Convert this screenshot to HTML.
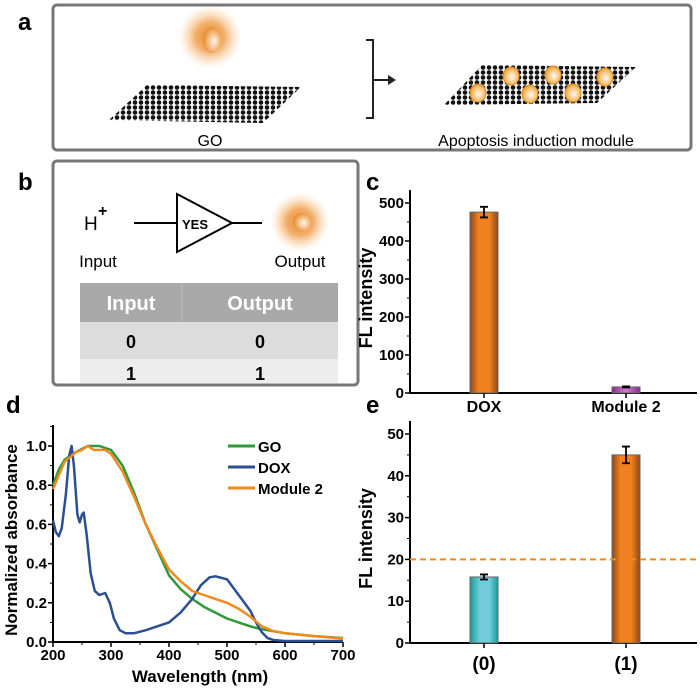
<!DOCTYPE html>
<html><head><meta charset="utf-8"><style>
body{margin:0;background:#fff;}
svg{display:block;font-family:"Liberation Sans",Arial,sans-serif;}
.b{font-weight:bold;}
</style></head><body>
<svg width="700" height="688" viewBox="0 0 700 688">
<defs>
<radialGradient id="halo"><stop offset="0" stop-color="#e8892a"/><stop offset="0.45" stop-color="#f0a050" stop-opacity="0.85"/><stop offset="1" stop-color="#fbd9b0" stop-opacity="0"/></radialGradient>
<radialGradient id="core" cx="0.6" cy="0.55" r="0.6"><stop offset="0" stop-color="#fff6ea"/><stop offset="1" stop-color="#e8892a"/></radialGradient>
<radialGradient id="ball" cx="0.55" cy="0.55" r="0.6"><stop offset="0" stop-color="#fffaf0"/><stop offset="0.7" stop-color="#f5b860"/><stop offset="1" stop-color="#d98a20"/></radialGradient>
<pattern id="dots" width="6" height="5" patternUnits="userSpaceOnUse"><circle cx="3" cy="2.5" r="2.3" fill="#111"/></pattern>
<linearGradient id="orbar" x1="0" x2="1"><stop offset="0" stop-color="#8a4a18"/><stop offset="0.3" stop-color="#f08020"/><stop offset="0.7" stop-color="#f08020"/><stop offset="1" stop-color="#8a4a18"/></linearGradient>
<linearGradient id="tealbar" x1="0" x2="1"><stop offset="0" stop-color="#1a9a9a"/><stop offset="0.35" stop-color="#70ccd8"/><stop offset="0.7" stop-color="#70ccd8"/><stop offset="1" stop-color="#1a9a9a"/></linearGradient>
<linearGradient id="purbar" x1="0" x2="1"><stop offset="0" stop-color="#8a2a8a"/><stop offset="0.5" stop-color="#d080d0"/><stop offset="1" stop-color="#8a2a8a"/></linearGradient>
</defs>

<!-- panel a -->
<text x="18" y="30" font-size="24" class="b">a</text>
<rect x="53" y="5" width="638" height="145" rx="4" fill="none" stroke="#777" stroke-width="3"/>
<circle cx="210" cy="37" r="32" fill="url(#halo)"/>
<ellipse cx="212" cy="40" rx="9" ry="13" fill="url(#core)"/>
<polygon points="147,85 301,87 263,123 109,120" fill="url(#dots)"/>
<text x="210" y="146" font-size="16" text-anchor="middle">GO</text>
<path d="M366 40 H373 V118 H366 M373 80 H388" fill="none" stroke="#222" stroke-width="2"/>
<polygon points="388,75 396,80 388,85" fill="#222"/>
<polygon points="482,65 636,67 597,103 444,105" fill="url(#dots)"/>
<g fill="url(#ball)" stroke="#d98a20" stroke-width="1">
<ellipse cx="478" cy="93" rx="8" ry="9"/><ellipse cx="511" cy="76" rx="8" ry="9"/><ellipse cx="530" cy="94" rx="8" ry="9"/><ellipse cx="553" cy="75" rx="8" ry="9"/><ellipse cx="573" cy="93" rx="8" ry="9"/><ellipse cx="605" cy="77" rx="8" ry="9"/>
</g>
<text x="536" y="146" font-size="16" text-anchor="middle">Apoptosis induction module</text>

<!-- panel b -->
<text x="18" y="190" font-size="24" class="b">b</text>
<rect x="53" y="161" width="305" height="224" rx="4" fill="none" stroke="#777" stroke-width="3"/>
<text x="84" y="230" font-size="19">H</text><text x="98" y="216" font-size="16" class="b">+</text>
<line x1="134" y1="223" x2="177" y2="223" stroke="#000" stroke-width="2"/>
<polygon points="177,194 232,223 177,252" fill="#fff" stroke="#000" stroke-width="2"/>
<text x="182" y="229" font-size="13" class="b">YES</text>
<line x1="232" y1="223" x2="262" y2="223" stroke="#000" stroke-width="2"/>
<circle cx="300" cy="222" r="30" fill="url(#halo)"/>
<circle cx="302" cy="222" r="9" fill="url(#core)"/>
<text x="98" y="267" font-size="17" text-anchor="middle">Input</text>
<text x="300" y="267" font-size="17" text-anchor="middle">Output</text>
<g>
<rect x="80" y="283" width="258" height="39" fill="#a9a9a9"/>
<rect x="80" y="322" width="258" height="37" fill="#dcdcdc"/>
<rect x="80" y="359" width="258" height="24" fill="#ededed"/>
<line x1="182" y1="283" x2="182" y2="322" stroke="#bbb"/>
<text x="131" y="310" font-size="20" fill="#fff" text-anchor="middle" class="b">Input</text>
<text x="260" y="310" font-size="20" fill="#fff" text-anchor="middle" class="b">Output</text>
<text x="131" y="348" font-size="18" text-anchor="middle" class="b">0</text>
<text x="260" y="348" font-size="18" text-anchor="middle" class="b">0</text>
<text x="131" y="380" font-size="18" text-anchor="middle" class="b">1</text>
<text x="260" y="380" font-size="18" text-anchor="middle" class="b">1</text>
</g>

<text x="366" y="190" font-size="24" class="b">c</text>
<text x="6" y="413" font-size="24" class="b">d</text>
<text x="366" y="413" font-size="24" class="b">e</text>

<g id="pd"></g><g id="pc"></g><g id="pe"></g>
</svg>
<script>
const NS="http://www.w3.org/2000/svg";
function mk(p,t,a,txt){const e=document.createElementNS(NS,t);for(const k in a)e.setAttribute(k,a[k]);if(txt!==undefined)e.textContent=txt;p.appendChild(e);return e;}

// Panel d data
const wlGO=[200,210,220,240,260,280,300,320,340,360,380,400,420,440,460,480,500,520,540,560,580,600,650,700];
const absGO=[0.8,0.88,0.93,0.97,1.0,1.0,0.98,0.9,0.76,0.6,0.47,0.34,0.27,0.22,0.18,0.15,0.12,0.1,0.08,0.065,0.055,0.045,0.03,0.02];
const wlDOX=[200,205,210,215,222,228,232,236,242,246,250,253,258,265,272,280,290,298,305,315,325,340,360,380,400,420,440,455,470,480,500,515,530,540,550,560,570,580,600,700];
const absDOX=[0.62,0.56,0.54,0.58,0.75,0.95,1.0,0.9,0.65,0.61,0.65,0.66,0.55,0.35,0.26,0.24,0.25,0.2,0.12,0.06,0.045,0.045,0.06,0.08,0.1,0.15,0.22,0.29,0.33,0.335,0.32,0.26,0.2,0.16,0.1,0.05,0.02,0.01,0.005,0.005];
const wlM2=[200,220,240,250,260,270,290,300,320,340,360,380,400,420,440,460,480,500,520,540,560,580,600,650,700];
const absM2=[0.78,0.92,0.97,0.98,1.0,0.98,0.98,0.96,0.87,0.74,0.6,0.48,0.37,0.31,0.26,0.24,0.22,0.2,0.17,0.13,0.08,0.055,0.045,0.03,0.018];
const dXTicks=[200,300,400,500,600,700];
const dYTicks=[0,0.2,0.4,0.6,0.8,1.0];
const dSeries=[["GO","#2e9a3a",wlGO,absGO],["DOX","#2c4f94",wlDOX,absDOX],["Module 2","#f08a1e",wlM2,absM2]];

// Panel c data
const cCats=["DOX","Module 2"];
const cVals=[476,16];
const cErr=[14,1.5];
const cYTicks=[0,100,200,300,400,500];
// Panel e data
const eCats=["(0)","(1)"];
const eVals=[15.8,45];
const eErr=[0.6,2];
const eYTicks=[0,10,20,30,40,50];
const eThreshold=20;

// Panel d drawing
(function(){
const g=document.getElementById('pd');
const X0=53,X1=343,Y0=642,Y1=446;
const sx=v=>X0+(v-200)/500*(X1-X0), sy=v=>Y0-v*(Y0-Y1);
mk(g,'line',{x1:X0,y1:Y0,x2:X1,y2:Y0,stroke:'#000','stroke-width':2});
mk(g,'line',{x1:X0,y1:Y0,x2:X0,y2:425,stroke:'#000','stroke-width':2});
dXTicks.forEach((t,i)=>{mk(g,'line',{x1:sx(t),y1:Y0,x2:sx(t),y2:Y0+5,stroke:'#000','stroke-width':1.5});
 if(i<dXTicks.length-1)mk(g,'line',{x1:sx(t+50),y1:Y0,x2:sx(t+50),y2:Y0+3,stroke:'#000'});
 mk(g,'text',{x:sx(t),y:Y0+18,'font-size':15,'font-weight':'bold','text-anchor':'middle'},t);});
dYTicks.forEach(t=>{mk(g,'line',{x1:X0,y1:sy(t),x2:X0-5,y2:sy(t),stroke:'#000','stroke-width':1.5});
 mk(g,'line',{x1:X0,y1:sy(t+0.1),x2:X0-3,y2:sy(t+0.1),stroke:'#000'});
 mk(g,'text',{x:X0-6,y:sy(t)+5,'font-size':15,'font-weight':'bold','text-anchor':'end'},t.toFixed(1));});
const xt=mk(g,'text',{x:200,y:682,'font-size':17,'font-weight':'bold','text-anchor':'middle'},'Wavelength (nm)');


const yt=mk(g,'text',{x:0,y:0,'font-size':17,'font-weight':'bold','text-anchor':'middle',transform:'translate(17,540) rotate(-90)'},'Normalized absorbance');


dSeries.forEach((s,i)=>{
 const d=s[2].map((w,j)=>(j?'L':'M')+sx(w).toFixed(1)+' '+sy(s[3][j]).toFixed(1)).join(' ');
 const p=mk(g,'path',{d:d,fill:'none',stroke:s[1],'stroke-width':2.5,'stroke-linejoin':'round'});
 
 
 const ly=446+i*21;
 const le=mk(g,'line',{x1:228,y1:ly,x2:255,y2:ly,stroke:s[1],'stroke-width':3});
 
 
 mk(g,'text',{x:258,y:ly+6,'font-size':15,'font-weight':'bold'},s[0]);
});
})();

// Bar chart helper
function bars(id,Y0,Ytop,maxV,ticks,minor,cats,vals,errs,fills,labY){
const g=document.getElementById(id);
const X0=410,X1=697;
const sy=v=>Y0-v/maxV*(Y0-Ytop);
const cx=[484,626];
mk(g,'line',{x1:X0,y1:Y0,x2:X1,y2:Y0,stroke:'#000','stroke-width':2});
mk(g,'line',{x1:X0,y1:Y0,x2:X0,y2:Ytop-13,stroke:'#000','stroke-width':2});
ticks.forEach(t=>{mk(g,'line',{x1:X0,y1:sy(t),x2:X0-5,y2:sy(t),stroke:'#000','stroke-width':1.5});
 if(t<ticks[ticks.length-1])mk(g,'line',{x1:X0,y1:sy(t+minor),x2:X0-3,y2:sy(t+minor),stroke:'#000'});
 mk(g,'text',{x:X0-6,y:sy(t)+5,'font-size':15,'font-weight':'bold','text-anchor':'end'},t);});
cats.forEach((c,i)=>{
 const b=mk(g,'rect',{x:cx[i]-14,y:sy(vals[i]),width:28,height:Y0-sy(vals[i]),fill:fills[i],stroke:'#666','stroke-width':1});
 
 
 const t=sy(vals[i]+errs[i]),bo=sy(vals[i]-errs[i]);
 mk(g,'path',{d:`M${cx[i]} ${t}V${bo}M${cx[i]-4} ${t}H${cx[i]+4}M${cx[i]-4} ${bo}H${cx[i]+4}`,stroke:'#000','stroke-width':1.8,fill:'none'});
 mk(g,'line',{x1:cx[i],y1:Y0,x2:cx[i],y2:Y0+5,stroke:'#000','stroke-width':1.5});
 mk(g,'text',{x:cx[i],y:labY,'font-size':cats[0]=='(0)'?19:16,'font-weight':'bold','text-anchor':'middle'},c);
});
const yt=mk(g,'text',{x:0,y:0,'font-size':18,'font-weight':'bold','text-anchor':'middle',transform:`translate(372,${(Y0+Ytop)/2}) rotate(-90)`},'FL intensity');


return {g,sy,X0,X1};
}
bars('pc',393,203,500,cYTicks,50,cCats,cVals,cErr,['url(#orbar)','url(#purbar)'],412);
const e=bars('pe',643,434,50,eYTicks,5,eCats,eVals,eErr,['url(#tealbar)','url(#orbar)'],670);
const th=mk(e.g,'line',{x1:e.X0,y1:e.sy(eThreshold),x2:e.X1,y2:e.sy(eThreshold),stroke:'#f08a1e','stroke-width':2,'stroke-dasharray':'6,4'});


</script>
</body></html>
